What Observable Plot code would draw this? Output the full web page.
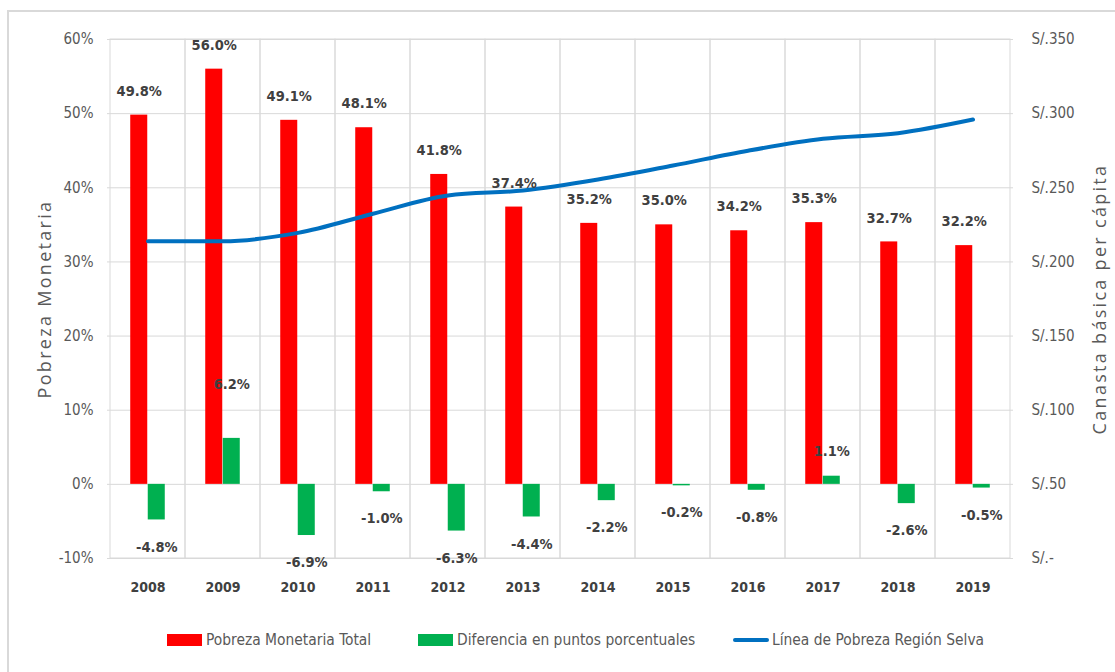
<!DOCTYPE html>
<html>
<head>
<meta charset="utf-8">
<script src="https://cdn.jsdelivr.net/npm/d3@7"></script>
<script src="https://cdn.jsdelivr.net/npm/@observablehq/plot@0.6"></script>
<style>
  html, body { margin: 0; padding: 0; background: #fff; }
  body { width: 1115px; height: 672px; overflow: hidden; position: relative;
         font-family: "DejaVu Sans Condensed", "Liberation Sans Narrow", sans-serif; }
  #frame { position: absolute; left: 7px; top: 10px; width: 1130px; height: 720px;
           border: 2px solid #d9d9d9; box-sizing: border-box; }
  #chart { position: absolute; left: 0; top: 0; }
  .leg { position: absolute; top: 629px; height: 22px; display: flex; align-items: center;
         font-size: 15.4px; color: #595959; white-space: nowrap; }
  .sw { display: inline-block; width: 35px; height: 12px; margin-right: 4px; }
  .ln { display: inline-block; width: 36px; height: 4px; margin-right: 3px; border-radius: 2px; }
</style>
</head>
<body>
<div id="frame"></div>
<div id="chart"></div>
<div class="leg" style="left:167px"><span class="sw" style="background:#FF0000"></span>Pobreza Monetaria Total</div>
<div class="leg" style="left:418px"><span class="sw" style="background:#00B050"></span>Diferencia en puntos porcentuales</div>
<div class="leg" style="left:733px"><span class="ln" style="background:#0070C0"></span>Línea de Pobreza Región Selva</div>
<script>
const years = ["2008","2009","2010","2011","2012","2013","2014","2015","2016","2017","2018","2019"];
const pobreza = [49.8, 56.0, 49.1, 48.1, 41.8, 37.4, 35.2, 35.0, 34.2, 35.3, 32.7, 32.2];
const diferencia = [-4.8, 6.2, -6.9, -1.0, -6.3, -4.4, -2.2, -0.2, -0.8, 1.1, -2.6, -0.5];
const lineaSelva = [214, 214, 219.6, 232.5, 244.8, 248.2, 255.6, 265, 275, 283, 286.8, 296];
const leftTicks = [-10, 0, 10, 20, 30, 40, 50, 60];
const rightTicks = [0, 50, 100, 150, 200, 250, 300, 350];
const rightTickLabels = ["S/.-", "S/.50", "S/.100", "S/.150", "S/.200", "S/.250", "S/.300", "S/.350"];

// secondary axis: S/.0 aligned with -10%, S/.350 with 60%
const solesToPct = s => s / 5 - 10;

const data = years.map((y, i) => ({year: y, pobreza: pobreza[i], diferencia: diferencia[i], linea: lineaSelva[i]}));

const W = 1115, H = 610;
const mL = 107, mR = 102;
const band = (W - mL - mR) / years.length;
const barW = band * 0.232;
const half = band / 2;

const labelFont = '"DejaVu Sans Condensed", "Liberation Sans Narrow", sans-serif';
const titleFont = '"Open Sans", "DejaVu Sans", sans-serif';

const chart = Plot.plot({
  width: W,
  height: H,
  marginLeft: mL,
  marginRight: mR,
  marginTop: 39,
  marginBottom: H - 558,
  style: {fontFamily: labelFont, background: "transparent", overflow: "visible"},
  x: {type: "band", domain: years, padding: 0, axis: null},
  y: {domain: [-10, 60], axis: null},
  marks: [
    Plot.gridY(leftTicks, {stroke: "#d9d9d9", strokeOpacity: 1, strokeWidth: 1}),
    Plot.barY(years, {x: d => d, y1: () => -10, y2: () => 60, fill: "none", stroke: "#d9d9d9", strokeWidth: 1}),
    Plot.barY(data, {x: "year", y: "pobreza", fill: "#FF0000", insetLeft: half - barW, insetRight: half}),
    Plot.barY(data, {x: "year", y: "diferencia", fill: "#00B050", insetLeft: half, insetRight: half - barW}),
    Plot.line(data, {x: "year", y: d => solesToPct(d.linea), stroke: "#0070C0", strokeWidth: 4, curve: "monotone-x", strokeLinecap: "round"}),
    Plot.text(data, {x: "year", y: "pobreza", text: d => d.pobreza.toFixed(1) + "%", dx: -barW / 2, dy: -24,
      fontWeight: "bold", fontSize: 14.5, fill: "#404040"}),
    Plot.text(data.filter(d => d.diferencia < 0), {x: "year", y: "diferencia", text: d => d.diferencia.toFixed(1) + "%",
      dx: barW / 2, dy: 27, fontWeight: "bold", fontSize: 14.5, fill: "#404040"}),
    Plot.text(data.filter(d => d.diferencia > 0 && d.diferencia < 5), {x: "year", y: "diferencia", text: d => d.diferencia.toFixed(1) + "%",
      dx: barW / 2, dy: -25, fontWeight: "bold", fontSize: 14.5, fill: "#404040"}),
    Plot.text(data.filter(d => d.diferencia >= 5), {x: "year", y: "diferencia", text: d => d.diferencia.toFixed(1) + "%",
      dx: barW / 2, dy: -54, fontWeight: "bold", fontSize: 14.5, fill: "#404040"}),
    Plot.axisX({tickSize: 0, tickPadding: 24, fontSize: 14, fontWeight: "bold", fill: "#404040", label: null}),
    Plot.axisY({anchor: "left", ticks: leftTicks, tickFormat: d => d + "%", tickSize: 0, tickPadding: 14,
      fontSize: 15, fill: "#595959", label: null}),
    Plot.axisY({anchor: "right", ticks: rightTicks.map(solesToPct),
      tickFormat: d => rightTickLabels[rightTicks.indexOf(Math.round((d + 10) * 5))],
      tickSize: 0, tickPadding: 18, fontSize: 15, fill: "#595959", label: null}),
    Plot.text(["Pobreza Monetaria"], {frameAnchor: "left", textAnchor: "middle", text: d => d, rotate: -90, dx: -62,
      fontFamily: titleFont, fontSize: 18, fill: "#595959"}),
    Plot.text(["Canasta básica per cápita"], {frameAnchor: "right", textAnchor: "middle", text: d => d, rotate: -90, dx: 87,
      fontFamily: titleFont, fontSize: 18, fill: "#595959"})
  ]
});

document.getElementById("chart").appendChild(chart);
d3.select(chart).selectAll("text").filter(function() {
  const t = this.textContent;
  return t === "Pobreza Monetaria" || t === "Canasta básica per cápita";
}).attr("letter-spacing", "2.3px");
</script>
</body>
</html>
